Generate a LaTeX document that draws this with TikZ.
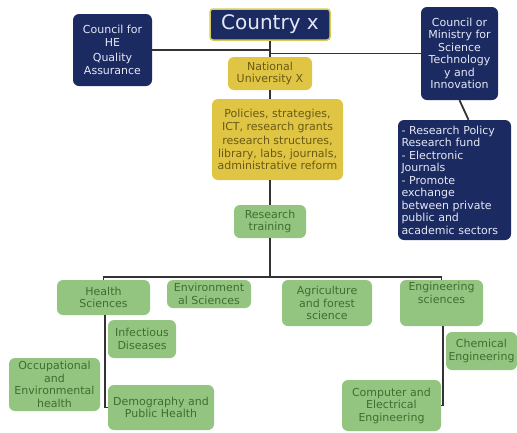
\documentclass[tikz,border=0pt]{standalone}
\usepackage{fontspec}
\setmainfont{DejaVu Sans}
\definecolor{navy}{HTML}{1C2A62}
\definecolor{navytxt}{HTML}{E4E8F4}
\definecolor{goldfill}{HTML}{E0C443}
\definecolor{goldtxt}{HTML}{6A5A16}
\definecolor{goldline}{HTML}{D8CB55}
\definecolor{greenfill}{HTML}{93C581}
\definecolor{greentxt}{HTML}{3F6E30}
\definecolor{linec}{HTML}{333333}
\begin{document}
\begin{tikzpicture}[x=1pt,y=-1pt,
  box/.style={rounded corners=6pt,inner sep=1pt,align=center,font=\fontsize{11}{12.5}\selectfont},
  navybox/.style={box,fill=navy,text=navytxt},
  goldbox/.style={box,fill=goldfill,text=goldtxt},
  greenbox/.style={box,fill=greenfill,text=greentxt},
  conn/.style={draw=linec,line width=1.8pt}]
\useasboundingbox (0,0) rectangle (517,432);
\node[box,fill=navy,draw=goldline,line width=1.5pt,rounded corners=3pt,text=navytxt,font=\fontsize{20}{22}\selectfont,minimum width=120pt,minimum height=31pt] (country) at (270,24.5) {Country x};
\node[navybox,minimum width=79pt,minimum height=72pt] (che) at (112.5,50) {Council for\\HE\\[3pt]Quality\\Assurance};
\node[navybox,minimum width=77pt,minimum height=93pt] (min) at (459.5,53.5) {Council or\\Ministry for\\Science\\Technology\\y and\\Innovation};
\node[goldbox,minimum width=84pt,minimum height=33pt] (nu) at (270,73.5) {National\\University X};
\node[goldbox,minimum width=131pt,minimum height=81pt] (pol) at (277.5,139.5) {Policies, strategies,\\ICT, research grants\\[2pt]research structures,\\library, labs, journals,\\administrative reform};
\node[greenbox,minimum width=72pt,minimum height=33pt] (rt) at (270,221.5) {Research\\training};
\node[navybox,minimum width=113pt,minimum height=120pt,align=left,text width=106pt] (rp) at (454.5,180) {- Research Policy\\Research fund\\- Electronic\\Journals\\- Promote\\exchange\\between private\\public and\\academic sectors};
\node[greenbox,minimum width=93pt,minimum height=35pt] (hs) at (103.5,297.5) {Health\\Sciences};
\node[greenbox,minimum width=84pt,minimum height=28pt] (es) at (209,294) {Environment\\al Sciences};
\node[greenbox,minimum width=90pt,minimum height=46pt] (ag) at (327,303) {Agriculture\\and forest\\science};
\node[greenbox,minimum width=83pt,minimum height=46pt] (eng) at (441.5,303) {Engineering\\sciences\\[8pt]};
\node[greenbox,minimum width=68pt,minimum height=38pt] (inf) at (142,339) {Infectious\\Diseases};
\node[greenbox,minimum width=91pt,minimum height=53pt] (occ) at (54.5,384.5) {Occupational\\and\\Environmental\\health};
\node[greenbox,minimum width=106pt,minimum height=45pt] (dem) at (161,407.5) {Demography and\\Public Health};
\node[greenbox,minimum width=71pt,minimum height=38pt] (chem) at (481.5,351) {Chemical\\Engineering};
\node[greenbox,minimum width=99pt,minimum height=51pt] (comp) at (391.5,405.5) {Computer and\\Electrical\\Engineering};
\coordinate (bar) at (270,277);
\draw[conn] (che.east) -- (che.east -| country.south);
\draw[conn] (country.south) -- (nu.north);
\draw[conn] (nu.north |- min.west) -- (min.west);
\draw[conn] (nu.south) -- (nu.south |- pol.north);
\draw[conn] (rt.north |- pol.south) -- (rt.north);
\draw[conn] (min.south) -- ([xshift=14pt]rp.north);
\draw[conn] (rt.south) -- (bar);
\draw[conn] (hs.north) -- (hs.north |- bar) -- (eng.north |- bar) -- (eng.north);
\draw[conn] ([xshift=1.5pt]hs.south) -- ([xshift=1.5pt]hs.south |- dem.west) -- (dem.west);
\draw[conn] ([xshift=1.5pt]eng.south) -- ([xshift=1.5pt]eng.south |- comp.east) -- (comp.east);
\end{tikzpicture}
\end{document}
